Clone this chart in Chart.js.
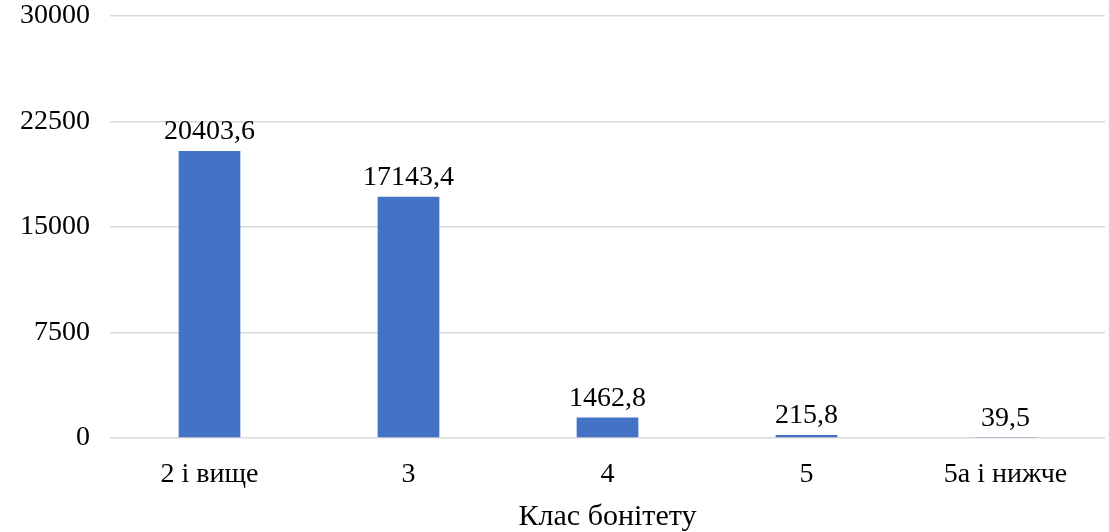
<!DOCTYPE html>
<html>
<head>
<meta charset="utf-8">
<script src="https://cdn.jsdelivr.net/npm/chart.js@4"></script>
<style>
  html, body { margin: 0; padding: 0; background: #ffffff; }
  #wrap { width: 1109px; height: 532px; }
</style>
</head>
<body>
<div id="wrap"><canvas id="c" width="1109" height="532"></canvas></div>
<script>
// Forest site classes and their areas
const categories = ['2 і вище', '3', '4', '5', '5а і нижче'];
const areaValues = [20403.6, 17143.4, 1462.8, 215.8, 39.5];
const yTicks = [0, 7500, 15000, 22500, 30000];

const FONT = "'Liberation Serif', 'DejaVu Serif', serif";

// Value labels drawn just above each bar, with a decimal comma
const valueLabels = {
  id: 'valueLabels',
  afterDatasetsDraw(chart) {
    const ctx = chart.ctx;
    const meta = chart.getDatasetMeta(0);
    ctx.save();
    ctx.font = '28px ' + FONT;
    ctx.fillStyle = '#000000';
    ctx.textAlign = 'center';
    ctx.textBaseline = 'middle';
    meta.data.forEach((bar, i) => {
      const txt = areaValues[i].toFixed(1).replace('.', ',');
      ctx.fillText(txt, bar.x, bar.y - 19);
    });
    ctx.restore();
  }
};

new Chart(document.getElementById('c'), {
  type: 'bar',
  data: {
    labels: categories,
    datasets: [{
      data: areaValues,
      backgroundColor: '#4472c4',
      borderWidth: 0,
      categoryPercentage: 1.0,
      barPercentage: 0.31
    }]
  },
  options: {
    responsive: false,
    animation: false,
    layout: { padding: { top: 16, right: 4, left: 0, bottom: 0 } },
    plugins: {
      legend: { display: false },
      tooltip: { enabled: false }
    },
    scales: {
      x: {
        grid: { display: false, drawTicks: false },
        border: { display: false },
        ticks: {
          color: '#000000',
          font: { family: FONT, size: 28, lineHeight: 1.2 },
          padding: 20
        },
        title: {
          display: true,
          text: 'Клас бонітету',
          color: '#000000',
          font: { family: FONT, size: 30, lineHeight: 1.0 },
          padding: { top: 0, bottom: 0 }
        },
        afterFit(scale) { scale.height = 94; }
      },
      y: {
        min: 0,
        max: 30000,
        afterBuildTicks(scale) {
          scale.ticks = yTicks.map(v => ({ value: v }));
        },
        grid: { color: '#d9d9d9', lineWidth: 1.5, drawTicks: false },
        border: { display: false },
        ticks: {
          color: '#000000',
          font: { family: FONT, size: 28, lineHeight: 1.2 },
          padding: 20,
          callback: v => String(v)
        },
        afterFit(scale) {
          scale.width = 110;
          scale.paddingTop = 0;
          scale.paddingBottom = 0;
        }
      }
    }
  },
  plugins: [valueLabels]
});
</script>
</body>
</html>
